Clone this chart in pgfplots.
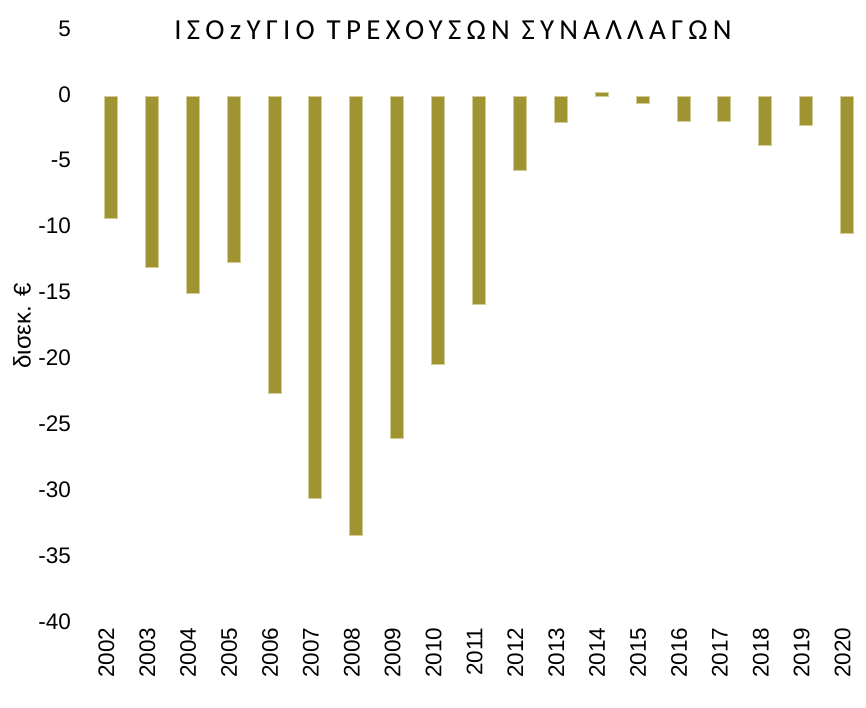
\documentclass[border=0pt]{standalone}
\usepackage{fontspec}
\setmainfont{Liberation Sans}
\newfontfamily\titlefont[LetterSpace=18]{Carlito}
\usepackage{pgfplots}
\pgfplotsset{compat=1.18}
\definecolor{barfill}{RGB}{160,148,50}
\definecolor{baredge}{RGB}{210,204,150}
\begin{document}
\begin{tikzpicture}[x=1pt,y=1pt]
\useasboundingbox (0,0) rectangle (866,707);
\begin{axis}[
  at={(90.5pt,83pt)}, anchor=south west,
  scale only axis, width=775.5pt, height=593pt,
  xmin=-0.5, xmax=18.46, ymin=-40, ymax=5,
  axis line style={draw=none},
  ybar, bar width=13pt,
  xtick={0,...,18},
  xticklabels={2002,2003,2004,2005,2006,2007,2008,2009,2010,2011,2012,2013,2014,2015,2016,2017,2018,2019,2020},
  ytick={-40,-35,...,5},
  major tick length=0pt,
  /pgf/number format/assume math mode=true,
  tick label style={font=\fontsize{22.5}{26}\selectfont},
  x tick label style={rotate=90, anchor=east},
  xticklabel pos=lower,
  yticklabel pos=left,
  typeset ticklabels with strut=false,
  ytick style={draw=none}, xtick style={draw=none},
  yticklabel style={xshift=-16pt},
  xticklabel style={yshift=2pt},
  clip=false,
]
\addplot[fill=barfill, draw=baredge, line width=1pt] coordinates {
(0,-9.2) (1,-12.95) (2,-14.9) (3,-12.6) (4,-22.5) (5,-30.5) (6,-33.3) (7,-25.9) (8,-20.3) (9,-15.75)
(10,-5.6) (11,-1.95) (12,0.35) (13,-0.5) (14,-1.87) (15,-1.9) (16,-3.7) (17,-2.15) (18,-10.4)
};
\end{axis}
\node[font=\titlefont\fontsize{29}{33}\selectfont] at (453,677) {ΙΣΟzΥΓΙΟ ΤΡΕΧΟΥΣΩΝ ΣΥΝΑΛΛΑΓΩΝ};
\node[rotate=90, font=\fontsize{24}{28}\selectfont] at (22,381) {δισεκ. €};
\end{tikzpicture}
\end{document}
